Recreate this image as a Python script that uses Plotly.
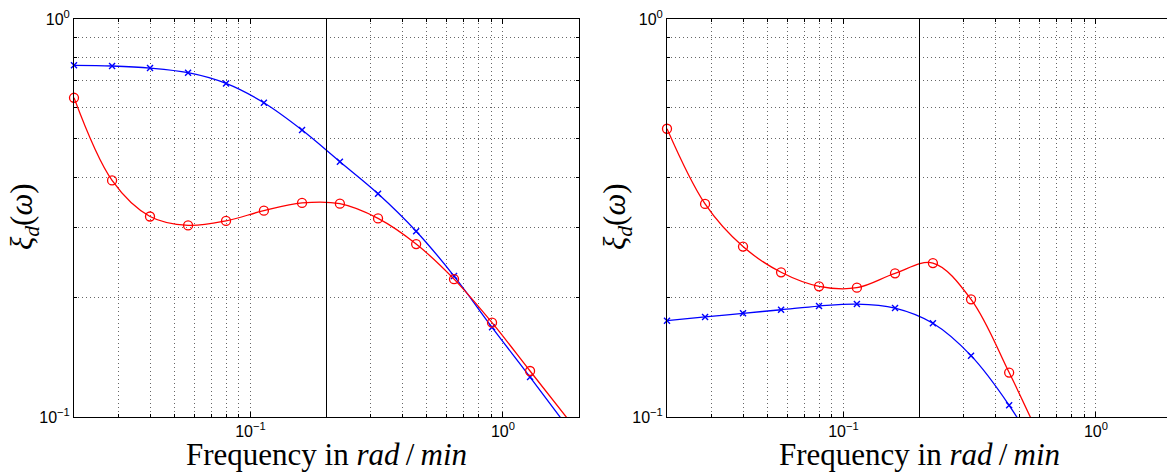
import math
import plotly.graph_objects as go

# ---------------- data ----------------
freq_left = [0.02, 0.0283, 0.04, 0.0566, 0.08, 0.113, 0.16, 0.226, 0.32, 0.453, 0.64, 0.905, 1.28, 1.81]
blue_left = [0.765, 0.762, 0.753, 0.733, 0.689, 0.616, 0.526, 0.438, 0.364, 0.293, 0.226, 0.168, 0.126, 0.094]
red_left = [0.634, 0.393, 0.319, 0.303, 0.311, 0.330, 0.345, 0.3435, 0.3155, 0.272, 0.222, 0.1726, 0.1305, 0.0987]

freq_right = [0.02, 0.0283, 0.04, 0.0566, 0.08, 0.113, 0.16, 0.226, 0.32, 0.453, 0.64]
blue_right = [0.1746, 0.1784, 0.1822, 0.186, 0.190, 0.1922, 0.1878, 0.172, 0.1426, 0.107, 0.0745]
red_right = [0.530, 0.343, 0.268, 0.231, 0.213, 0.2113, 0.2296, 0.2437, 0.1975, 0.1293, 0.081]

cutoff_freq = 0.2

x_major = [0.1, 1]
x_major_text = ["10<sup>\u22121</sup>", "10<sup>0</sup>"]
x_minor = [0.02, 0.03, 0.04, 0.05, 0.06, 0.07, 0.08, 0.09, 0.2, 0.3, 0.4, 0.5, 0.6, 0.7, 0.8, 0.9, 2]
y_major = [0.1, 1]
y_major_text = ["10<sup>\u22121</sup>", "10<sup>0</sup>"]
y_minor = [0.2, 0.3, 0.4, 0.5, 0.6, 0.7, 0.8, 0.9]

y_min, y_max = 0.1, 1.0
x_min, x_max = 0.02, 2.0

# ---------------- layout geometry ----------------
W, H = 1167, 476
ax_top, ax_bot = 19, 417
left_x0, left_x1 = 74, 579
right_x0 = 667
decade_px = (left_x1 - left_x0) / (math.log10(x_max) - math.log10(x_min))
right_range_end = math.log10(x_min) + (W - right_x0) / decade_px

RED = "#ff0000"
BLUE = "#0000ff"
GRID = "#666666"
TICKFONT = dict(family="Liberation Sans, Arial, sans-serif", size=16, color="black")
TITLEFONT = dict(family="Liberation Serif, Times New Roman, serif", size=31, color="black")

fig = go.Figure()


def add_series(x, y, color, symbol, xa, ya, size, lw):
    fig.add_trace(go.Scatter(
        x=x, y=y, mode="lines", line=dict(color=color, width=1.3, shape="spline", smoothing=1.0),
        xaxis=xa, yaxis=ya, showlegend=False, hoverinfo="skip"))
    vx = [a for a, b in zip(x, y) if y_min <= b <= y_max]
    vy = [b for b in y if y_min <= b <= y_max]
    fig.add_trace(go.Scatter(
        x=vx, y=vy, mode="markers", cliponaxis=False,
        marker=dict(symbol=symbol, size=size, color=color, line=dict(color=color, width=lw)),
        xaxis=xa, yaxis=ya, showlegend=False))


add_series(freq_left, blue_left, BLUE, "x-thin", "x", "y", 6, 1.4)
add_series(freq_left, red_left, RED, "circle-open", "x", "y", 9, 1.3)
add_series(freq_right, blue_right, BLUE, "x-thin", "x2", "y2", 6, 1.4)
add_series(freq_right, red_right, RED, "circle-open", "x2", "y2", 9, 1.3)


def xaxis_cfg(domain, rng, mirror, anchor):
    return dict(
        type="log", domain=domain, range=rng, anchor=anchor, automargin=False,
        tickmode="array", tickvals=x_major, ticktext=x_major_text,
        ticks="inside", ticklen=5, tickcolor="black", tickwidth=1,
        showline=True, linecolor="black", linewidth=1, mirror=mirror,
        showgrid=True, gridcolor=GRID, griddash="1px,3px", gridwidth=1,
        minor=dict(tickmode="array", tickvals=x_minor, ticks="inside", ticklen=3,
                   tickcolor="black", showgrid=True, gridcolor=GRID, griddash="1px,3px", gridwidth=1),
        tickfont=TICKFONT, zeroline=False, fixedrange=True)


def yaxis_cfg(mirror, anchor):
    return dict(
        type="log", domain=[(H - ax_bot) / H, (H - ax_top) / H], anchor=anchor, automargin=False,
        range=[math.log10(y_min), math.log10(y_max)],
        tickmode="array", tickvals=y_major, ticktext=y_major_text,
        ticks="inside", ticklen=5, tickcolor="black", tickwidth=1,
        showline=True, linecolor="black", linewidth=1, mirror=mirror,
        showgrid=True, gridcolor=GRID, griddash="1px,3px", gridwidth=1,
        minor=dict(tickmode="array", tickvals=y_minor, ticks="inside", ticklen=3,
                   tickcolor="black", showgrid=True, gridcolor=GRID, griddash="1px,3px", gridwidth=1),
        tickfont=TICKFONT, zeroline=False, fixedrange=True)


fig.update_layout(
    width=W, height=H,
    margin=dict(l=0, r=0, t=0, b=0, autoexpand=False),
    paper_bgcolor="white", plot_bgcolor="white",
    xaxis=xaxis_cfg([left_x0 / W, left_x1 / W], [math.log10(x_min), math.log10(x_max)], "ticks", "y"),
    yaxis=yaxis_cfg("ticks", "x"),
    xaxis2=xaxis_cfg([right_x0 / W, 1.0], [math.log10(x_min), right_range_end], "ticks", "y2"),
    yaxis2=yaxis_cfg(False, "x2"),
    showlegend=False,
)

# vertical reference line at the cutoff frequency
for xr, yr in (("x", "y domain"), ("x2", "y2 domain")):
    fig.add_shape(type="line", xref=xr, yref=yr, x0=cutoff_freq, x1=cutoff_freq, y0=0, y1=1,
                  line=dict(color="black", width=1), layer="above")

xtitle = "Frequency in <i>rad</i>\u2009/\u2009<i>min</i>"
ytitle = "<i>\u03be</i><sub><i>d</i></sub>(<i>\u03c9</i>)"
title_y = (H - 454) / H
ytitle_y = (H - 217) / H
panel_w = left_x1 - left_x0
for cx, yx in (((left_x0 + left_x1) / 2, left_x0 - 50), (right_x0 + panel_w / 2, right_x0 - 50)):
    fig.add_annotation(text=xtitle, xref="paper", yref="paper", x=cx / W, y=title_y,
                       xanchor="center", yanchor="middle", showarrow=False, font=TITLEFONT)
    fig.add_annotation(text=ytitle, xref="paper", yref="paper", x=yx / W, y=ytitle_y,
                       xanchor="center", yanchor="middle", showarrow=False, textangle=-90, font=TITLEFONT)

fig.write_html("out.html", config={"displayModeBar": False},
               post_script="document.body.style.margin='0';document.body.style.overflow='hidden';")
